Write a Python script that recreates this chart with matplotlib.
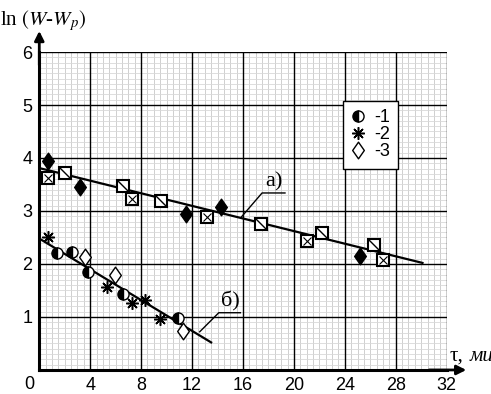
import matplotlib
matplotlib.use('Agg')
import matplotlib.pyplot as plt
from matplotlib.lines import Line2D
from matplotlib.path import Path

plt.rcParams['font.family'] = ['Liberation Sans', 'DejaVu Sans']
plt.rcParams['mathtext.fontset'] = 'stix'

# series а): filled diamonds, boxed crosses, boxed diagonals
a_diam_x = [0.7, 3.2, 11.5, 14.25, 25.2]
a_diam_y = [3.95, 3.46, 2.94, 3.07, 2.16]
a_boxx_x = [0.7, 7.3, 13.2, 21.05, 27.0]
a_boxx_y = [3.63, 3.23, 2.88, 2.44, 2.08]
a_boxd_x = [2.0, 6.55, 9.6, 17.4, 22.2, 26.3]
a_boxd_y = [3.71, 3.48, 3.18, 2.75, 2.59, 2.35]
a_fit_x = [0, 30.1]
a_fit_y = [3.81, 2.02]

# series б): 1 - half circles, 2 - stars, 3 - open diamonds
b1_x = [1.36, 2.54, 3.8, 6.54, 10.9]
b1_y = [2.20, 2.22, 1.85, 1.43, 0.99]
b2_x = [0.71, 5.34, 7.25, 8.29, 9.52]
b2_y = [2.50, 1.57, 1.26, 1.32, 0.96]
b3_x = [3.58, 5.94, 11.3]
b3_y = [2.14, 1.79, 0.74]
b_fit_x = [0, 13.5]
b_fit_y = [2.48, 0.52]

x_ticks = [4, 8, 12, 16, 20, 24, 28, 32]
y_ticks = [1, 2, 3, 4, 5, 6]
legend_labels = ['-1', '-2', '-3']

TICK_FONT = 13
diag = Path([(-1, 1), (1, -1)], [Path.MOVETO, Path.LINETO])
rhomb = Path([(0, 1), (0.7, 0), (0, -1), (-0.7, 0), (0, 1)],
             [Path.MOVETO, Path.LINETO, Path.LINETO, Path.LINETO, Path.CLOSEPOLY])

fig = plt.figure(figsize=(4.91, 3.94), dpi=100)
ax = fig.add_axes([0.080, 0.061, 0.8297, 0.807])
ax.set_xlim(0, 32)
ax.set_ylim(0, 6)

# grid paper
for v in [i * 0.5 for i in range(1, 64)]:
    ax.axvline(v, color='#cfcfcf', lw=0.7, zorder=0)
for v in [i * 0.1 for i in range(1, 60)]:
    ax.axhline(v, color='#d8d8d8', lw=0.6, zorder=0)
for v in x_ticks:
    ax.axvline(v, color='black', lw=1.0, zorder=1)
for v in y_ticks:
    ax.axhline(v, color='black', lw=1.0, zorder=1)

for s in ['top', 'right']:
    ax.spines[s].set_visible(False)
for s in ['left', 'bottom']:
    ax.spines[s].set_linewidth(2.2)

ax.set_xticks(x_ticks)
ax.set_yticks(y_ticks)
ax.tick_params(length=0, labelsize=TICK_FONT, pad=5)
ax.text(-0.35, -0.12, '0', fontsize=TICK_FONT, ha='right', va='top')

# axis arrows
ax.annotate('', xy=(0, 1.075), xytext=(0, 0.95), xycoords='axes fraction',
            arrowprops=dict(arrowstyle='-|>', color='black', lw=2, mutation_scale=14))
ax.annotate('', xy=(1.055, 0), xytext=(0.95, 0), xycoords='axes fraction',
            arrowprops=dict(arrowstyle='-|>', color='black', lw=2, mutation_scale=14))

# fit lines
ax.plot(a_fit_x, a_fit_y, color='black', lw=1.6, zorder=3)
ax.plot(b_fit_x, b_fit_y, color='black', lw=1.6, zorder=3)

# series а)
ax.plot(a_diam_x, a_diam_y, marker=rhomb, ls='none', color='black', mew=1.0, ms=12, zorder=4)
ax.plot(a_boxx_x, a_boxx_y, 's', mfc='white', mec='black', mew=1.5, ms=9, zorder=4)
ax.plot(a_boxx_x, a_boxx_y, 'x', color='black', mew=0.8, ms=6, zorder=5)
ax.plot(a_boxd_x, a_boxd_y, 's', mfc='white', mec='black', mew=1.5, ms=9, zorder=4)
ax.plot(a_boxd_x, a_boxd_y, marker=diag, ls='none', color='black', mew=1.0, ms=9, zorder=5)

# series б)
m1 = dict(marker='o', fillstyle='left', mfc='black', mfcalt='white', mec='black',
          mew=1.0, ms=8, ls='none')
m2 = dict(marker=(8, 2, 0), color='black', mew=1.1, ms=9, ls='none')
m3 = dict(marker=rhomb, mfc='white', mec='black', mew=1.0, ms=12, ls='none')
ax.plot(b1_x, b1_y, zorder=4, **m1)
ax.plot(b2_x, b2_y, zorder=4, **m2)
ax.plot(b3_x, b3_y, zorder=4, **m3)

# labels а) and б) with leaders
ax.plot([15.85, 17.5, 19.3], [2.88, 3.34, 3.34], color='black', lw=1.0, zorder=3)
ax.text(18.4, 3.36, 'а)', fontsize=16, family='Liberation Serif', ha='center', va='bottom')
ax.plot([12.6, 14.1, 15.8], [0.72, 1.08, 1.08], color='black', lw=1.0, zorder=3)
ax.text(15.0, 1.10, 'б)', fontsize=16, family='Liberation Serif', ha='center', va='bottom')

handles = [Line2D([], [], **m1), Line2D([], [], **m2), Line2D([], [], **m3)]
leg = ax.legend(handles, legend_labels, loc='upper left', bbox_to_anchor=(0.745, 0.845),
                fontsize=13, frameon=True, fancybox=False, framealpha=1,
                edgecolor='black', handlelength=0.8, handletextpad=0.5,
                labelspacing=0.0, borderpad=0.45, borderaxespad=0)
leg.get_frame().set_linewidth(1.0)

# axis titles
fig.text(0.0, 0.935, r'ln $(W$-$W_p)$', fontsize=15, family='Liberation Serif')
fig.text(0.915, 0.085, 'τ,', fontsize=15, family='Liberation Serif')
fig.text(0.957, 0.085, 'мин', fontsize=15, family='Liberation Serif', style='italic')

fig.savefig('out.png', dpi=100)
